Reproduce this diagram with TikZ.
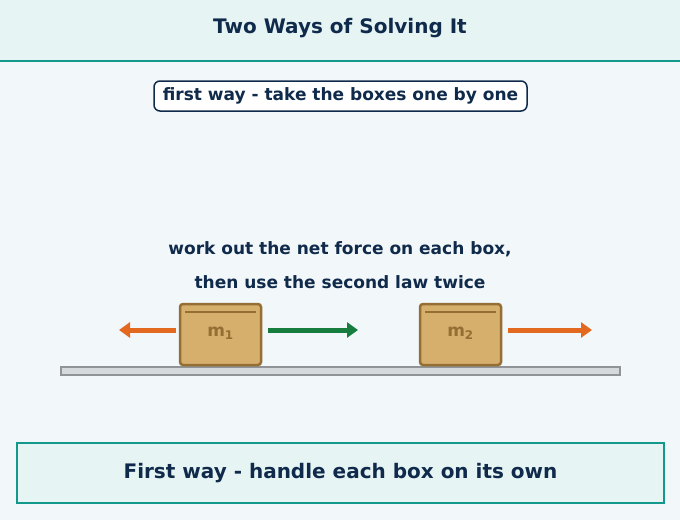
\documentclass[tikz,border=0pt]{standalone}
\usepackage{fontspec}
\setmainfont{DejaVu Sans}
\usetikzlibrary{arrows.meta}
\definecolor{navy}{HTML}{0F2A4A}
\definecolor{teal}{HTML}{12998B}
\definecolor{tealbg}{HTML}{E6F4F4}
\definecolor{pagebg}{HTML}{F2F7FA}
\definecolor{wood}{HTML}{D6AF6D}
\definecolor{woodline}{HTML}{946E33}
\definecolor{pull}{HTML}{E2691F}
\definecolor{net}{HTML}{177D3E}
\tikzset{
  box/.style={draw=woodline,line width=2.5pt,fill=wood,rounded corners=3pt,minimum width=81pt,minimum height=61pt,inner sep=0pt},
  force/.style={line width=5pt,-{Triangle[length=11pt,width=15pt]}},
  txt/.style={text=navy,font=\bfseries\fontsize{17}{20}\selectfont}
}
\begin{document}
\begin{tikzpicture}[x=1pt,y=-1pt]
  \fill[pagebg] (0,0) rectangle (680,520);
  \useasboundingbox (0,0) rectangle (680,520);
  \fill[tealbg] (0,0) rectangle (680,61);
  \draw[teal,line width=2.5pt] (0,61) -- (680,61);
  \node[txt,font=\bfseries\fontsize{20}{24}\selectfont] (title) at (340,28) {Two Ways of Solving It};
  \node[txt,draw=navy,line width=1.5pt,fill=white,rounded corners=6pt,minimum width=373pt,minimum height=30pt,inner sep=0pt] (tag) at (340.5,96) {first way - take the boxes one by one};
  \node[txt] (line1) at (340,249) {work out the net force on each box,};
  \node[txt] (line2) at (340,282) {then use the second law twice};
  % floor
  \draw[fill=black!12!pagebg,draw=black!40!pagebg,line width=1.5pt] (61,367) rectangle (620,375);
  % boxes
  \node[box] (m1) at (220.5,334.5) {};
  \node[box] (m2) at (460.5,334.5) {};
  \foreach \b/\n in {m1/1,m2/2}{
    \draw[woodline,line width=1.5pt] ([xshift=6pt,yshift=-9pt]\b.north west) -- ([xshift=-6pt,yshift=-9pt]\b.north east);
    \node[text=woodline,font=\bfseries\fontsize{17}{20}\selectfont] at ([yshift=1pt]\b.center) {m\textsubscript{\n}};
  }
  \coordinate (p1) at (119,330);
  \coordinate (g1) at (358,330);
  \coordinate (p2) at (592,330);
  \draw[force,pull] ([xshift=-3pt,yshift=4.5pt]m1.west) -- (p1);
  \draw[force,net] ([xshift=6pt,yshift=4.5pt]m1.east) -- (g1);
  \draw[force,pull] ([xshift=6pt,yshift=4.5pt]m2.east) -- (p2);
  % summary
  \node[txt,font=\bfseries\fontsize{20}{24}\selectfont,draw=teal,line width=2pt,fill=tealbg,minimum width=647pt,minimum height=60pt,inner sep=0pt] (sum) at (340.5,473) {First way - handle each box on its own};
\end{tikzpicture}
\end{document}
